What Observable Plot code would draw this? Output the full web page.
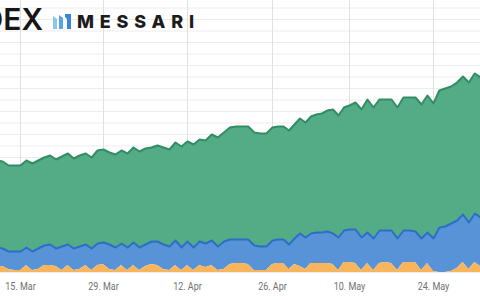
<!DOCTYPE html>
<html>
<head>
<meta charset="utf-8">
<script src="https://cdn.jsdelivr.net/npm/d3@7"></script>
<script src="https://cdn.jsdelivr.net/npm/@observablehq/plot@0.6"></script>
<style>
  html, body { margin: 0; padding: 0; background: #ffffff; }
  #wrap { position: relative; width: 480px; height: 300px; overflow: hidden; }
  #logo { position: absolute; left: 0; top: 0; }
</style>
</head>
<body>
<div id="wrap">
  <div id="chart"></div>
  <svg id="logo" width="220" height="40" viewBox="0 0 220 40">
    <text x="43" y="30" text-anchor="end" font-family="Inter, 'DejaVu Sans', sans-serif" font-size="30" font-weight="600" fill="#161616">DEX</text>
    <polygon points="53,16 57,19 57,29 53,29" fill="#8cc6f2"/>
    <polygon points="59,15 63,18 63,29 59,29" fill="#55a3e8"/>
    <polygon points="65,14 71,14 71,29 67,29 67,19 65,17" fill="#3a85d6"/>
    <text x="77" y="28" font-family="Inter, 'DejaVu Sans', sans-serif" font-size="18" font-weight="800" letter-spacing="5.8" fill="#1c1c1c">MESSARI</text>
  </svg>
</div>
<script>
// ---- data (daily, starting 11 Mar 2021) ----
const startDate = "2021-03-11";
// bottom layer (orange)
const seriesOrange = [6,6,3,2,2,7,2,3,7,7,6,2,7,2,3,7,2,7,8,3,2,7,2,7,2,6,8,7,3,2,7,2,7,2,7,5,7,2,3,8,9,9,8,2,2,2,8,9,9,3,8,6,3,9,9,9,9,8,2,10,10,9,2,9,2,9,10,9,2,10,10,10,2,9,1,0,0,1,4,10,3,10,6,7];
// middle layer (blue)
const seriesBlue = [19,18,18,19,19,18,19,21,20,21,18,24,21,22,23,21,22,22,22,25,23,22,23,23,23,22,23,24,25,24,25,23,24,23,24,24,25,24,28,25,24,24,25,25,24,24,24,24,24,25,26,33,32,30,31,31,32,31,33,32,33,34,33,31,32,33,32,33,32,32,32,31,32,31,33,45,46,48,48,48,47,49,49,50];
// top layer (green)
const seriesGreen = [87,87,86,86,86,87,88,88,88,89,89,90,91,90,91,91,91,93,93,92,93,93,94,95,96,96,94,96,97,97,98,101,100,103,102,103,106,109,109,112,113,113,113,113,113,113,113,113,113,114,114,115,115,117,118,119,121,124,122,123,124,127,128,133,131,131,131,131,131,133,133,134,134,137,135,137,138,137,138,138,140,140,140,140];
const tickLabels = ["2021-03-15","2021-03-29","2021-04-12","2021-04-26","2021-05-10","2021-05-24"];
const monthNames = ["Jan","Feb","Mar","Apr","May","Jun","Jul","Aug","Sep","Oct","Nov","Dec"];
const gridStep = 11.5;
const yMax = 272;

// ---- build table ----
const t0 = new Date(startDate + "T00:00:00Z");
const dates = seriesOrange.map((_, i) => d3.utcDay.offset(t0, i));
const rows = dates.map((date, i) => {
  const o = seriesOrange[i], b = seriesBlue[i], g = seriesGreen[i];
  return {date, o0: 0, o1: o, b0: o, b1: o + b, g0: o + b, g1: o + b + g};
});
const ticks = tickLabels.map(s => new Date(s + "T00:00:00Z"));
const day = 864e5;
const xDomain = [new Date(+ticks[0] - 3.37 * day), ...ticks, new Date(+ticks[5] + 7.97 * day)];
const xRange = [0, 20, 103, 187, 272, 349, 433, 480];

const chart = Plot.plot({
  width: 480,
  height: 300,
  marginLeft: 0,
  marginRight: 0,
  marginTop: 0,
  marginBottom: 28,
  style: {background: "#ffffff", color: "#707070", fontFamily: "'Liberation Sans Narrow', 'Roboto', sans-serif", fontSize: "11.5px"},
  x: {type: "utc", domain: xDomain, range: xRange, ticks: ticks, tickSize: 0, tickPadding: 9,
      tickFormat: d => `${d.getUTCDate()}. ${monthNames[d.getUTCMonth()]}`, label: null},
  y: {domain: [0, yMax], axis: null},
  marks: [
    Plot.ruleY(d3.range(0, yMax, gridStep), {stroke: "#ececec", strokeWidth: 1}),
    Plot.ruleX(ticks, {stroke: "#e0e0e0", strokeWidth: 1}),
    Plot.areaY(rows, {x: "date", y1: "g0", y2: "g1", fill: "#54ac87"}),
    Plot.areaY(rows, {x: "date", y1: "b0", y2: "b1", fill: "#5893d8"}),
    Plot.areaY(rows, {x: "date", y1: "o0", y2: "o1", fill: "#f8b55c"}),
    Plot.lineY(rows, {x: "date", y: "b1", stroke: "#2b6ec6", strokeWidth: 2}),
    Plot.lineY(rows, {x: "date", y: "g1", stroke: "#328d64", strokeWidth: 2})
  ]
});
document.getElementById("chart").appendChild(chart);
// condense the date tick labels horizontally (no narrow face installed)
chart.querySelectorAll("text").forEach(t => {
  if (/^\d+\. [A-Z][a-z]{2}$/.test(t.textContent.trim())) {
    const w = t.getComputedTextLength();
    t.setAttribute("textLength", (w * 0.78).toFixed(1));
    t.setAttribute("lengthAdjust", "spacingAndGlyphs");
  }
});
</script>
</body>
</html>
